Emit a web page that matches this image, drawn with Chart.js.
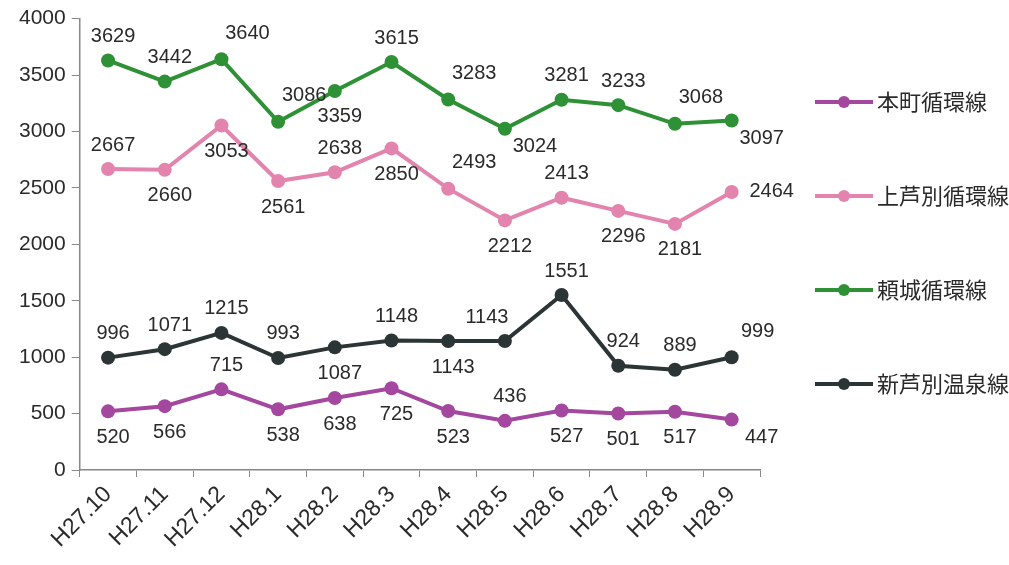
<!DOCTYPE html>
<html>
<head>
<meta charset="utf-8">
<script src="https://cdn.jsdelivr.net/npm/chart.js@4"></script>
<style>
  html, body { margin: 0; padding: 0; background: #fff; }
  #wrap { width: 1009px; height: 565px; }
</style>
</head>
<body>
<div id="wrap"><canvas id="myChart"></canvas></div>
<script>
const months = ['H27.10', 'H27.11', 'H27.12', 'H28.1', 'H28.2', 'H28.3', 'H28.4', 'H28.5', 'H28.6', 'H28.7', 'H28.8', 'H28.9'];
const honcho = [520, 566, 715, 538, 638, 725, 523, 436, 527, 501, 517, 447];
const kamiashibetsu = [2667, 2660, 3053, 2561, 2638, 2850, 2493, 2212, 2413, 2296, 2181, 2464];
const raijo = [3629, 3442, 3640, 3086, 3359, 3615, 3283, 3024, 3281, 3233, 3068, 3097];
const shinashibetsu = [996, 1071, 1215, 993, 1087, 1148, 1143, 1143, 1551, 924, 889, 999];
const yTicks = [0, 500, 1000, 1500, 2000, 2500, 3000, 3500, 4000];

// where each value label sits: a above, b below, r right, ar/br/al corners
const labelPos = {
  honcho: ['b','b','a','b','b','b','b','a','b','b','b','br'],
  kamiashibetsu: ['a','b','b','b','a','b','ar','b','a','b','b','r'],
  raijo: ['a','a','ar','ar','b','a','ar','br','a','a','ar','br'],
  shinashibetsu: ['a','a','a','a','b','a','b','al','a','a','a','ar']
};

const ctx = document.getElementById('myChart');

function ds(label, data, color, key) {
  return {
    label: label,
    data: data,
    borderColor: color,
    backgroundColor: color,
    borderWidth: 4,
    pointRadius: 7,
    pointHoverRadius: 7,
    pointBorderWidth: 0,
    tension: 0,
    labelKey: key
  };
}

const valueLabels = {
  id: 'valueLabels',
  afterDatasetsDraw(chart) {
    const c = chart.ctx;
    c.save();
    c.font = '20px "Liberation Sans", Arial, sans-serif';
    c.fillStyle = '#2a2a2a';
    c.textAlign = 'center';
    c.textBaseline = 'middle';
    chart.data.datasets.forEach((d, i) => {
      const meta = chart.getDatasetMeta(i);
      const pos = labelPos[d.labelKey];
      meta.data.forEach((pt, j) => {
        let dx = 5, dy = 0;
        const p = pos[j];
        if (p === 'a') dy = -24;
        if (p === 'b') dy = 26;
        if (p === 'r') { dx = 40; }
        if (p === 'ar') { dx = 26; dy = -26; }
        if (p === 'br') { dx = 30; dy = 18; }
        if (p === 'al') { dx = -18; dy = -24; }
        c.fillText(String(d.data[j]), pt.x + dx, pt.y + dy);
      });
    });
    c.restore();
  }
};

const sideLegend = {
  id: 'sideLegend',
  afterDraw(chart) {
    const c = chart.ctx;
    const x0 = chart.chartArea.right + 55;
    const rows = [102, 196, 290, 384];
    c.save();
    c.font = '22px "Noto Sans CJK JP", sans-serif';
    c.textBaseline = 'middle';
    c.textAlign = 'left';
    chart.data.datasets.forEach((d, i) => {
      const y = rows[i];
      c.strokeStyle = d.borderColor;
      c.fillStyle = d.borderColor;
      c.lineWidth = 4;
      c.beginPath();
      c.moveTo(x0, y);
      c.lineTo(x0 + 58, y);
      c.stroke();
      c.beginPath();
      c.arc(x0 + 29, y, 6, 0, Math.PI * 2);
      c.fill();
      c.fillStyle = '#2a2a2a';
      c.fillText(d.label, x0 + 62, y);
    });
    c.restore();
  }
};

new Chart(ctx, {
  type: 'line',
  data: {
    labels: months,
    datasets: [
      ds('本町循環線', honcho, '#a4479f', 'honcho'),
      ds('上芦別循環線', kamiashibetsu, '#e384ae', 'kamiashibetsu'),
      ds('頼城循環線', raijo, '#2f9135', 'raijo'),
      ds('新芦別温泉線', shinashibetsu, '#2c3535', 'shinashibetsu')
    ]
  },
  options: {
    responsive: true,
    maintainAspectRatio: false,
    animation: false,
    layout: { padding: { left: 13, top: 6, right: 249, bottom: 8 } },
    plugins: {
      legend: { display: false },
      tooltip: { enabled: false }
    },
    scales: {
      x: {
        offset: true,
        grid: { display: true, drawOnChartArea: false, offset: true, tickLength: 7, color: '#888' },
        border: { color: '#888', width: 1.5 },
        ticks: {
          minRotation: 45,
          maxRotation: 45,
          padding: 4,
          color: '#2a2a2a',
          font: { family: '"Liberation Sans", Arial, sans-serif', size: 23 }
        }
      },
      y: {
        min: 0,
        max: 4000,
        afterBuildTicks(axis) { axis.ticks = yTicks.map(v => ({ value: v })); },
        grid: { display: true, drawOnChartArea: false, tickLength: 8, color: '#888' },
        border: { color: '#888', width: 1.5 },
        ticks: {
          color: '#2a2a2a',
          padding: 6,
          callback: v => String(v),
          font: { family: '"Liberation Sans", Arial, sans-serif', size: 21 }
        }
      }
    }
  },
  plugins: [valueLabels, sideLegend]
});
</script>
</body>
</html>
